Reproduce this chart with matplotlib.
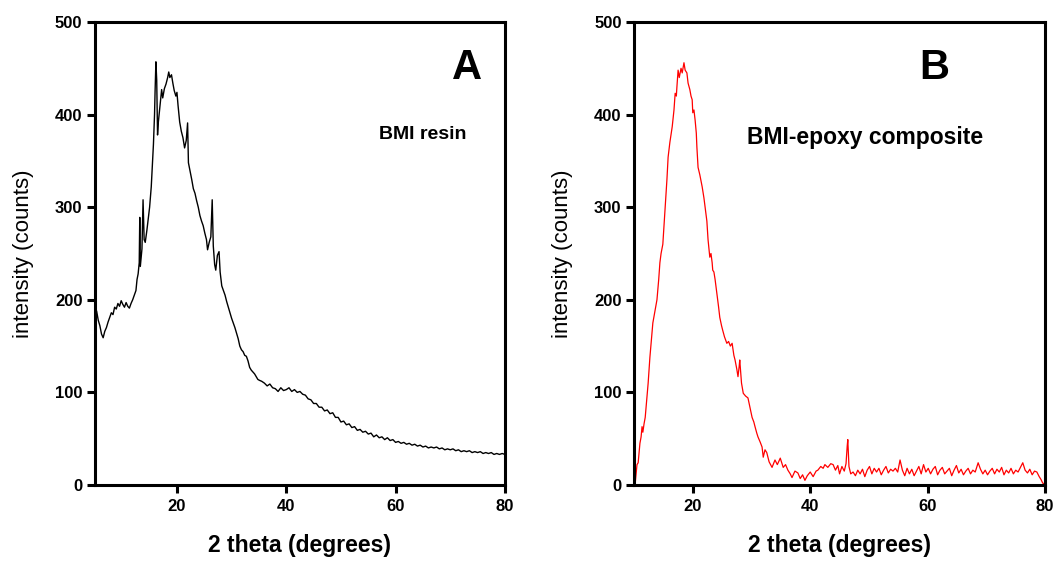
import matplotlib
matplotlib.use('Agg')
import matplotlib.pyplot as plt

plt.rcParams['font.family'] = ['Liberation Sans', 'DejaVu Sans']

# Panel A: BMI resin
theta_a = [5.0, 5.3, 5.6, 5.9, 6.2, 6.5, 6.8, 7.1, 7.4, 7.7, 8.0, 8.3, 8.6, 8.9, 9.2, 9.5,
           9.8, 10.1, 10.4, 10.7, 11.0, 11.3, 11.6, 11.9, 12.2, 12.5, 12.7, 12.9, 13.1, 13.2,
           13.3, 13.6, 13.8, 14.0, 14.2, 14.5, 14.8, 15.0, 15.3, 15.5, 15.7, 15.9, 16.0, 16.15,
           16.3, 16.45, 16.6, 16.9, 17.2, 17.4, 17.7, 18.0, 18.3, 18.5, 18.7, 19.0, 19.25, 19.5,
           19.8, 20.0, 20.2, 20.5, 20.8, 21.1, 21.4, 21.7, 21.95, 22.1, 22.4, 22.7, 23.0, 23.3,
           23.6, 23.9, 24.2, 24.5, 24.8, 25.1, 25.4, 25.6, 25.9, 26.2, 26.45, 26.65, 26.9, 27.1,
           27.4, 27.7, 27.9, 28.2, 28.5, 28.8, 29.1, 29.4, 29.7, 30.0, 30.3, 30.6, 30.9, 31.2,
           31.5, 31.8, 32.1, 32.4, 32.7, 33.0, 33.3, 33.6, 33.9, 34.2, 34.5, 34.8, 35.1, 35.5,
           36.0, 36.5, 37.0, 37.5, 38.0, 38.5, 39.0, 39.5, 40.0, 40.5, 41.0, 41.5, 42.0, 42.5,
           43.0, 43.5, 44.0, 44.5, 45.0, 45.5, 46.0, 46.5, 47.0, 47.5, 48.0, 48.5, 49.0, 49.5,
           50.0, 50.5, 51.0, 51.5, 52.0, 52.5, 53.0, 53.5, 54.0, 54.5, 55.0, 55.5, 56.0, 56.5,
           57.0, 57.5, 58.0, 58.5, 59.0, 59.5, 60.0, 60.5, 61.0, 61.5, 62.0, 62.5, 63.0, 63.5,
           64.0, 64.5, 65.0, 65.5, 66.0, 66.5, 67.0, 67.5, 68.0, 68.5, 69.0, 69.5, 70.0, 70.5,
           71.0, 71.5, 72.0, 72.5, 73.0, 73.5, 74.0, 74.5, 75.0, 75.5, 76.0, 76.5, 77.0, 77.5,
           78.0, 78.5, 79.0, 79.5, 80.0]
counts_a = [183, 188, 178, 172, 163, 159, 166, 170, 176, 181, 186, 184, 192, 190, 196, 193,
            199, 195, 192, 197, 193, 191, 196, 200, 205, 210, 222, 228, 240, 289,
            236, 255, 308, 265, 262, 275, 290, 300, 322, 345, 368, 400, 425, 457,
            437, 378, 392, 410, 427, 418, 428, 433, 440, 446, 440, 443, 434, 426,
            420, 424, 410, 392, 382, 375, 364, 372, 391, 348, 339, 330, 320, 315,
            307, 300, 291, 285, 280, 272, 265, 254, 262, 268, 308, 258, 238, 232,
            248, 252, 230, 215, 210, 205, 198, 192, 186, 180, 175, 170, 164, 158,
            150, 146, 144, 140, 139, 134, 127, 124, 122, 120, 117, 114, 113, 112,
            110, 107, 109, 105, 104, 101, 105, 102, 103, 105, 101, 103, 100, 101,
            98, 97, 93, 92, 88, 88, 84, 84, 80, 81, 77, 78, 73, 73,
            68, 69, 65, 66, 62, 63, 59, 60, 57, 58, 55, 56, 52, 54,
            51, 52, 49, 51, 48, 49, 46, 47, 45, 46, 44, 45, 43, 44,
            42, 43, 41, 42, 40, 41, 40, 41, 39, 40, 38, 39, 38, 39,
            37, 38, 36, 37, 36, 37, 35, 36, 35, 36, 34, 35, 34, 35,
            33, 34, 33, 34, 33]

# Panel B: BMI-epoxy composite
theta_b = [10.0, 10.2, 10.5, 10.7, 11.0, 11.2, 11.36, 11.5, 11.7, 11.9, 12.2, 12.4, 12.7, 13.0,
           13.2, 13.5, 13.9, 14.2, 14.4, 14.6, 14.9, 15.1, 15.3, 15.6, 15.8, 16.1, 16.5, 16.8,
           17.0, 17.2, 17.3, 17.5, 17.7, 18.0, 18.2, 18.5, 18.7, 19.0, 19.2, 19.5, 19.7, 19.9,
           20.0, 20.2, 20.4, 20.6, 20.7, 20.9, 21.2, 21.6, 21.9, 22.1, 22.4, 22.6, 22.9, 23.1,
           23.3, 23.4, 23.6, 23.8, 24.1, 24.4, 24.6, 24.9, 25.1, 25.4, 25.8, 26.1, 26.4, 26.7,
           27.0, 27.2, 27.5, 27.7, 27.9, 28.0, 28.3, 28.6, 29.0, 29.4, 29.7, 30.1, 30.4, 30.6,
           30.9, 31.1, 31.5, 31.8, 32.0, 32.3, 32.6, 33.0, 33.5, 34.0, 34.4, 34.9, 35.4, 35.8,
           36.2, 36.6, 36.9, 37.4, 37.9, 38.3, 38.7, 39.1, 39.5, 40.0, 40.5, 41.0, 41.3, 41.8,
           42.2, 42.5, 43.0, 43.5, 43.9, 44.3, 44.7, 45.0, 45.4, 45.8, 46.1, 46.3, 46.4, 46.6,
           46.9, 47.3, 47.7, 48.1, 48.5, 48.9, 49.3, 49.7, 50.1, 50.5, 50.9, 51.3, 51.7, 52.1,
           52.5, 52.9, 53.3, 53.7, 54.1, 54.5, 54.9, 55.3, 55.7, 56.1, 56.5, 56.9, 57.3, 57.7,
           58.1, 58.5, 58.9, 59.3, 59.7, 60.1, 60.5, 60.9, 61.3, 61.7, 62.1, 62.5, 62.9, 63.3,
           63.7, 64.1, 64.5, 64.9, 65.3, 65.7, 66.1, 66.5, 66.9, 67.3, 67.7, 68.1, 68.6, 69.0,
           69.4, 69.8, 70.2, 70.6, 71.0, 71.4, 71.8, 72.2, 72.6, 73.0, 73.4, 73.8, 74.2, 74.6,
           75.0, 75.4, 75.8, 76.2, 76.6, 77.0, 77.4, 77.8, 78.2, 78.6, 79.0, 79.3, 79.6, 80.0]
counts_b = [0, 2, 22, 24, 45, 52, 63, 57, 66, 73, 95, 110, 138, 160,
            175, 186, 200, 222, 240, 250, 260, 280, 300, 330, 354, 370, 387, 405,
            423, 420, 430, 448, 440, 450, 445, 456, 448, 445, 434, 427, 420, 416,
            402, 405, 394, 380, 365, 343, 335, 322, 310, 300, 285, 265, 246, 250,
            240, 232, 230, 222, 207, 192, 181, 172, 167, 160, 153, 155, 150, 153,
            140, 135, 125, 117, 128, 135, 110, 99, 96, 94, 85, 73, 68, 63,
            56, 52, 46, 41, 30, 38, 35, 25, 19, 27, 22, 29, 19, 22,
            16, 12, 8, 15, 13, 7, 11, 5, 10, 14, 9, 15, 16, 20,
            18, 22, 19, 23, 22, 16, 21, 12, 20, 15, 23, 42, 49, 20,
            12, 14, 10, 16, 12, 17, 9, 16, 20, 12, 18, 14, 18, 11,
            16, 20, 13, 17, 15, 18, 14, 27, 16, 10, 18, 12, 17, 10,
            15, 20, 12, 22, 14, 18, 12, 17, 20, 11, 16, 19, 12, 15,
            18, 10, 16, 21, 13, 17, 11, 15, 18, 12, 16, 14, 24, 17,
            12, 16, 11, 15, 18, 12, 17, 14, 19, 11, 16, 13, 18, 12,
            16, 14, 19, 24, 16, 13, 17, 11, 15, 14, 9, 6, 2, 1]

y_ticks = [0, 100, 200, 300, 400, 500]
x_ticks = [20, 40, 60, 80]

fig = plt.figure(figsize=(10.55, 5.61), dpi=100)
ax_a = fig.add_axes([0.0900, 0.1355, 0.3886, 0.8253])
ax_b = fig.add_axes([0.6010, 0.1355, 0.3896, 0.8253])

ax_a.plot(theta_a, counts_a, color='black', linewidth=1.0)
ax_b.plot(theta_b, counts_b, color='red', linewidth=0.9)

panels = [(ax_a, (5, 80), 'A', 73.1, 'BMI resin', 57.0, 378, 14),
          (ax_b, (10, 80), 'B', 61.2, 'BMI-epoxy composite', 29.2, 375, 16.5)]

for ax, xlim, letter, lx, note, nx, ny, nsize in panels:
    ax.set_xlim(*xlim)
    ax.set_ylim(0, 500)
    ax.set_xticks(x_ticks)
    ax.set_yticks(y_ticks)
    for sp in ax.spines.values():
        sp.set_linewidth(2.2)
    ax.tick_params(direction='out', length=6, width=2.2, labelsize=12)
    ax.tick_params(axis='x', pad=4)
    ax.tick_params(axis='y', pad=3)
    for lab in ax.get_xticklabels() + ax.get_yticklabels():
        lab.set_fontweight('bold')
    ax.set_xlabel('2 theta (degrees)', fontsize=16.5, fontweight='bold')
    ax.set_ylabel('intensity (counts)', fontsize=16)
    ax.xaxis.set_label_coords(0.5, -0.105)
    ax.yaxis.set_label_coords(-0.148, 0.5)
    ax.text(lx, 450, letter, fontsize=30, fontweight='bold', ha='center', va='center')
    ax.text(nx, ny, note, fontsize=nsize, fontweight='bold', ha='left', va='center')

fig.savefig('out.png', dpi=100)
